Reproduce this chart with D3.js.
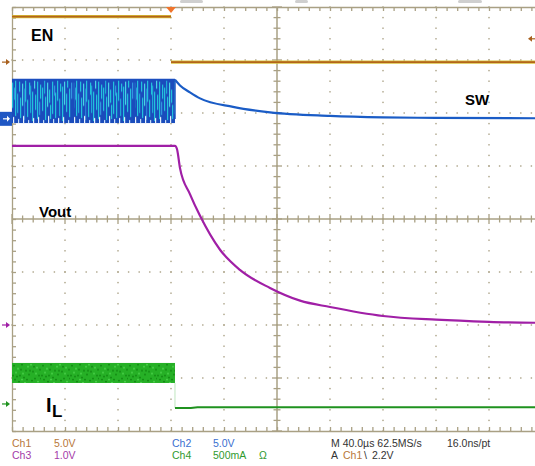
<!DOCTYPE html>
<html>
<head>
<meta charset="utf-8">
<script src="https://cdn.jsdelivr.net/npm/d3@7"></script>
<style>
  body { margin: 0; background: #fff; }
  text { font-family: "Liberation Sans", Arial, sans-serif; }
</style>
</head>
<body>
<div id="chart"></div>
<script>
// time axis in µs, 40 µs/div, trigger at t = 0
const enTime = [-120, 0, 0, 280];
const enVolt = [4.3, 4.3, 0, 0];

// SW: switching band (min / max) before EN goes low, then decay
const swBandTime = [-120, 3];
const swBandVolt = [-0.4, 3.7];
const swTime = [3, 6.8, 14.3, 21.9, 46.8, 74.7, 120, 160, 200, 280];
const swVolt = [3.68, 3.15, 2.5, 1.93, 1.13, 0.61, 0.28, 0.14, 0.09, 0.05];

const voutTime = [-120, 3, 4.5, 6.8, 14.3, 21.9, 37, 52, 74.7, 97.4, 120, 160, 200, 240, 280];
const voutVolt = [3.38, 3.38, 3.32, 2.96, 2.47, 2.06, 1.42, 1.04, 0.70, 0.46, 0.34, 0.17, 0.10, 0.06, 0.04];

// IL: ripple band (min / max) in mA, then after shutdown
const ilBandTime = [-120, 3];
const ilBandMa = [198, 387];
const ilTime = [3, 15, 20, 280];
const ilMa = [-38, -38, -30, -30];

// channel settings: volts (or mA) per div, ground offset in div
const ch1 = { perDiv: 5, offset: 2.96, color: "#b3641b" };
const ch2 = { perDiv: 5, offset: 1.89, color: "#1a5cc6" };
const ch3 = { perDiv: 1, offset: -2.0, color: "#a01fa6" };
const ch4 = { perDiv: 500, offset: -3.49, color: "#1f921f" };

const statusLeft = [
  ["Ch1", "5.0V", "#b8783a"], ["Ch3", "1.0V", "#a43aa8"]
];
const statusMid = [
  ["Ch2", "5.0V", "#3a6fd0"], ["Ch4", "500mA", "#2f9a2f"]
];

const width = 535, height = 466;
const gridColor = "#a9a084";

const svg = d3.select("#chart").append("svg")
  .attr("width", width)
  .attr("height", height)
  .style("display", "block");

svg.append("rect").attr("width", width).attr("height", height).attr("fill", "#fff");

const x = d3.scaleLinear().domain([-120, 280]).range([12, 542]);
const div = d3.scaleLinear().domain([-4, 4]).range([431, 7]);
const yOf = ch => v => div(ch.offset + v / ch.perDiv);

// patterns for the noisy bands (texture only)
const defs = svg.append("defs");
const swTop = yOf(ch2)(swBandVolt[1]), swBot = yOf(ch2)(swBandVolt[0]);
const swH = swBot - swTop;
const pSw = defs.append("pattern").attr("id", "swNoise")
  .attr("patternUnits", "userSpaceOnUse")
  .attr("x", 12).attr("y", swTop)
  .attr("width", 61).attr("height", swH);
pSw.append("rect").attr("width", 61).attr("height", swH).attr("fill", "#1a4cbc");
const streaks = [
  [0, 3, 28, "#22c2dc"], [2, 8, 20, "#3296e0"], [3, 1, 36, "#22c2dc"], [5, 14, 33, "#1ea9d8"],
  [7, 2, 12, "#22c2dc"], [8, 18, 38, "#22c2dc"], [10, 4, 26, "#48d2e6"], [12, 9, 40, "#2a7fd8"],
  [13, 1, 22, "#22c2dc"], [15, 20, 37, "#22c2dc"], [17, 3, 15, "#22c2dc"], [18, 6, 33, "#1ea9d8"],
  [20, 12, 41, "#22c2dc"], [22, 1, 9, "#48d2e6"], [23, 15, 30, "#22c2dc"], [25, 2, 39, "#22c2dc"],
  [27, 22, 35, "#3296e0"], [28, 5, 19, "#22c2dc"], [30, 8, 31, "#22c2dc"], [32, 1, 14, "#1ea9d8"],
  [33, 17, 40, "#22c2dc"], [35, 3, 27, "#48d2e6"], [37, 10, 23, "#22c2dc"], [38, 25, 39, "#22c2dc"],
  [40, 2, 34, "#22c2dc"], [42, 6, 16, "#3296e0"], [43, 13, 38, "#22c2dc"], [45, 1, 21, "#22c2dc"],
  [47, 19, 36, "#1ea9d8"], [48, 4, 12, "#22c2dc"], [50, 7, 41, "#22c2dc"], [52, 2, 25, "#48d2e6"],
  [54, 14, 32, "#22c2dc"], [55, 1, 8, "#22c2dc"], [57, 9, 37, "#22c2dc"], [59, 3, 19, "#3296e0"],
  [1, 37, 43, "#e8f1fb"], [6, 39, 43, "#c9def6"], [11, 36, 43, "#e8f1fb"], [16, 40, 43, "#c9def6"],
  [21, 38, 43, "#e8f1fb"], [26, 37, 43, "#e8f1fb"], [31, 40, 43, "#c9def6"], [36, 36, 43, "#e8f1fb"],
  [41, 39, 43, "#c9def6"], [46, 38, 43, "#e8f1fb"], [51, 37, 43, "#e8f1fb"], [56, 40, 43, "#c9def6"]];
pSw.selectAll("rect.s").data(streaks).join("rect").attr("class", "s")
  .attr("x", d => d[0]).attr("y", d => d[1] * swH / 43)
  .attr("width", 1.2).attr("height", d => (d[2] - d[1]) * swH / 43).attr("fill", d => d[3]);

const ilTop = yOf(ch4)(ilBandMa[1]), ilBot = yOf(ch4)(ilBandMa[0]);
const ilH = ilBot - ilTop;
const pIl = defs.append("pattern").attr("id", "ilNoise")
  .attr("patternUnits", "userSpaceOnUse")
  .attr("x", 12).attr("y", ilTop)
  .attr("width", 29).attr("height", ilH);
pIl.append("rect").attr("width", 29).attr("height", ilH).attr("fill", "#26b026");
const specks = [
  [1, 2, "#128a12"], [5, 5, "#48d048"], [9, 1, "#128a12"], [13, 7, "#128a12"], [3, 9, "#48d048"],
  [7, 12, "#128a12"], [11, 14, "#128a12"], [15, 3, "#48d048"], [2, 16, "#128a12"], [6, 18, "#128a12"],
  [10, 10, "#48d048"], [14, 16, "#128a12"], [4, 13, "#128a12"], [12, 19, "#48d048"], [8, 6, "#128a12"],
  [16, 11, "#128a12"], [18, 1, "#48d048"], [20, 8, "#128a12"], [22, 15, "#128a12"], [24, 4, "#48d048"],
  [26, 12, "#128a12"], [19, 17, "#128a12"], [23, 10, "#48d048"], [27, 6, "#128a12"], [21, 3, "#128a12"],
  [25, 18, "#48d048"], [17, 7, "#128a12"], [28, 15, "#128a12"], [0, 12, "#128a12"], [9, 16, "#48d048"]];
pIl.selectAll("rect.s").data(specks).join("rect").attr("class", "s")
  .attr("x", d => d[0]).attr("y", d => d[1] * ilH / 20)
  .attr("width", 2).attr("height", 1.4).attr("fill", d => d[2]);

// ---- graticule ----
const g = svg.append("g");
const minorX = d3.range(-120, 281, 8);
const minorY = d3.range(-4, 4.01, 0.2);
const majorX = d3.range(-80, 281, 40).filter(t => t !== 80);
const majorY = [-3, -2, -1, 1, 2, 3];

// dotted division lines
majorX.forEach(t => {
  g.selectAll(null).data(minorY).join("rect")
    .attr("x", x(t) - 0.7).attr("y", d => div(d) - 0.7)
    .attr("width", 1.4).attr("height", 1.4).attr("fill", gridColor);
});
majorY.forEach(v => {
  g.selectAll(null).data(minorX).join("rect")
    .attr("x", d => x(d) - 0.7).attr("y", div(v) - 0.7)
    .attr("width", 1.4).attr("height", 1.4).attr("fill", gridColor);
});

// border axes
const noLabel = () => "";
svg.append("g").attr("transform", `translate(0,${div(4)})`)
  .call(d3.axisBottom(x).tickValues(minorX).tickSize(4).tickSizeOuter(0).tickFormat(noLabel));
svg.append("g").attr("transform", `translate(0,${div(-4)})`)
  .call(d3.axisTop(x).tickValues(minorX).tickSize(4).tickSizeOuter(0).tickFormat(noLabel));
svg.append("g").attr("transform", `translate(${x(-120)},0)`)
  .call(d3.axisRight(div).tickValues(minorY).tickSize(4).tickSizeOuter(0).tickFormat(noLabel));
svg.selectAll(".domain, .tick line").attr("stroke", gridColor).attr("stroke-width", 1.3);

// center cross with ticks
g.append("line").attr("x1", x(-120)).attr("x2", x(280)).attr("y1", div(0)).attr("y2", div(0))
  .attr("stroke", gridColor).attr("stroke-width", 1.5);
g.append("line").attr("x1", x(80)).attr("x2", x(80)).attr("y1", div(4)).attr("y2", div(-4))
  .attr("stroke", gridColor).attr("stroke-width", 1.5);
g.selectAll(null).data(minorX).join("line")
  .attr("x1", d => x(d)).attr("x2", d => x(d))
  .attr("y1", d => div(0) - (d % 40 === 0 ? 5 : 3.5))
  .attr("y2", d => div(0) + (d % 40 === 0 ? 5 : 3.5))
  .attr("stroke", gridColor).attr("stroke-width", 1.3);
g.selectAll(null).data(minorY).join("line")
  .attr("y1", d => div(d)).attr("y2", d => div(d))
  .attr("x1", d => x(80) - (Math.abs(d % 1) < 0.01 ? 5 : 3.5))
  .attr("x2", d => x(80) + (Math.abs(d % 1) < 0.01 ? 5 : 3.5))
  .attr("stroke", gridColor).attr("stroke-width", 1.3);

// grey tabs at very top
svg.selectAll("rect.tab").data([[180, 203], [295, 308], [458, 482]]).join("rect")
  .attr("class", "tab").attr("x", d => d[0]).attr("y", 0)
  .attr("width", d => d[1] - d[0]).attr("height", 3).attr("rx", 1.5).attr("fill", "#cfcfcf");

// ---- traces ----
const lineOf = (ch, curve) => d3.line().x(d => x(d[0])).y(d => yOf(ch)(d[1])).curve(curve);

// Ch1 EN: fast edge not visible, draw high and low parts separately
const enData = d3.zip(enTime, enVolt);
[enData.slice(0, 2), enData.slice(2)].forEach(seg => {
  svg.append("path").datum(seg).attr("d", lineOf(ch1, d3.curveLinear))
    .attr("fill", "none").attr("stroke", "#d8c23a").attr("stroke-width", 3.2);
  svg.append("path").datum(seg).attr("d", lineOf(ch1, d3.curveLinear))
    .attr("fill", "none").attr("stroke", ch1.color).attr("stroke-width", 1.8);
});

// Ch2 SW
svg.append("rect")
  .attr("x", x(swBandTime[0])).attr("y", swTop)
  .attr("width", x(swBandTime[1]) - x(swBandTime[0])).attr("height", swH)
  .attr("fill", "url(#swNoise)");
svg.append("line").attr("x1", x(swBandTime[0])).attr("x2", x(swBandTime[1]))
  .attr("y1", swTop).attr("y2", swTop).attr("stroke", "#1b4ebf").attr("stroke-width", 1.5);
svg.append("line").attr("x1", x(swBandTime[1])).attr("x2", x(swBandTime[1]))
  .attr("y1", swTop).attr("y2", swBot - 4).attr("stroke", "#1b4ebf").attr("stroke-width", 1.5);
svg.append("path").datum(d3.zip(swTime, swVolt)).attr("d", lineOf(ch2, d3.curveMonotoneX))
  .attr("fill", "none").attr("stroke", ch2.color).attr("stroke-width", 2.2);

// Ch3 Vout
svg.append("path").datum(d3.zip(voutTime, voutVolt)).attr("d", lineOf(ch3, d3.curveMonotoneX))
  .attr("fill", "none").attr("stroke", ch3.color).attr("stroke-width", 2.2);

// Ch4 IL
svg.append("rect")
  .attr("x", x(ilBandTime[0])).attr("y", ilTop)
  .attr("width", x(ilBandTime[1]) - x(ilBandTime[0])).attr("height", ilH)
  .attr("fill", "url(#ilNoise)");
svg.append("line").attr("x1", x(ilBandTime[1])).attr("x2", x(ilBandTime[1]))
  .attr("y1", ilBot).attr("y2", yOf(ch4)(ilMa[0]))
  .attr("stroke", "#bfe6bf").attr("stroke-width", 1);
svg.append("path").datum(d3.zip(ilTime, ilMa)).attr("d", lineOf(ch4, d3.curveLinear))
  .attr("fill", "none").attr("stroke", ch4.color).attr("stroke-width", 2);

// ---- markers ----
const arrow = (xx, yy, color) => {
  svg.append("line").attr("x1", xx - 6).attr("x2", xx).attr("y1", yy).attr("y2", yy)
    .attr("stroke", color).attr("stroke-width", 1.2);
  svg.append("path").attr("d", `M${xx + 2},${yy} L${xx - 2},${yy - 3} L${xx - 2},${yy + 3} Z`).attr("fill", color);
};
arrow(8, yOf(ch1)(0), "#a8601e");
arrow(8, yOf(ch3)(0), ch3.color);
arrow(8, yOf(ch4)(0), ch4.color);
// ch2 boxed marker
const g2 = yOf(ch2)(0);
svg.append("rect").attr("x", 0).attr("y", g2 - 7).attr("width", 12).attr("height", 14)
  .attr("fill", "#1f57c4");
svg.append("line").attr("x1", 3).attr("x2", 9).attr("y1", g2).attr("y2", g2)
  .attr("stroke", "#fff").attr("stroke-width", 1.2);
svg.append("path").attr("d", `M10,${g2} L7,${g2 - 3} L7,${g2 + 3} Z`).attr("fill", "#fff");
// trigger level (2.2 V) on right
const trigY = yOf(ch1)(2.2);
svg.append("path").attr("d", `M528,${trigY} L532,${trigY - 3} L532,${trigY + 3} Z`).attr("fill", "#a8601e");
svg.append("line").attr("x1", 530).attr("x2", 535).attr("y1", trigY).attr("y2", trigY)
  .attr("stroke", "#a8601e").attr("stroke-width", 1.2);
// trigger position
svg.append("path").attr("d", `M${x(0) - 5},${div(4)} L${x(0) + 5},${div(4)} L${x(0)},${div(4) + 6} Z`)
  .attr("fill", "#f0742c");

// ---- labels ----
svg.append("text").attr("x", 31).attr("y", 40.5).attr("font-size", 16).attr("font-weight", "bold").text("EN");
svg.append("text").attr("x", 465).attr("y", 105).attr("font-size", 15).attr("font-weight", "bold").text("SW");
svg.append("text").attr("x", 39).attr("y", 217).attr("font-size", 15).attr("font-weight", "bold").text("Vout");
svg.append("text").attr("x", 46).attr("y", 411.5).attr("font-size", 20).attr("font-weight", "bold").text("I");
svg.append("text").attr("x", 52).attr("y", 417).attr("font-size", 17).attr("font-weight", "bold").text("L");

// ---- status bar ----
const st = svg.append("g").attr("font-size", 10.5);
statusLeft.forEach((d, i) => {
  st.append("text").attr("x", 12).attr("y", 447 + i * 12).attr("fill", d[2]).text(d[0]);
  st.append("text").attr("x", 54).attr("y", 447 + i * 12).attr("fill", d[2]).text(d[1]);
});
statusMid.forEach((d, i) => {
  st.append("text").attr("x", 172).attr("y", 447 + i * 12).attr("fill", d[2]).text(d[0]);
  st.append("text").attr("x", 213).attr("y", 447 + i * 12).attr("fill", d[2]).text(d[1]);
});
st.append("text").attr("x", 259).attr("y", 459).attr("fill", "#2f9a2f").text("Ω");
st.append("text").attr("x", 331).attr("y", 447).attr("fill", "#333").text("M 40.0µs 62.5MS/s");
st.append("text").attr("x", 447).attr("y", 447).attr("fill", "#333").text("16.0ns/pt");
st.append("text").attr("x", 331).attr("y", 459).attr("fill", "#333").text("A");
st.append("text").attr("x", 343).attr("y", 459).attr("fill", "#b8783a").text("Ch1");
st.append("text").attr("x", 364).attr("y", 459).attr("fill", "#333").text("\\");
st.append("text").attr("x", 372).attr("y", 459).attr("fill", "#333").text("2.2V");
</script>
</body>
</html>
